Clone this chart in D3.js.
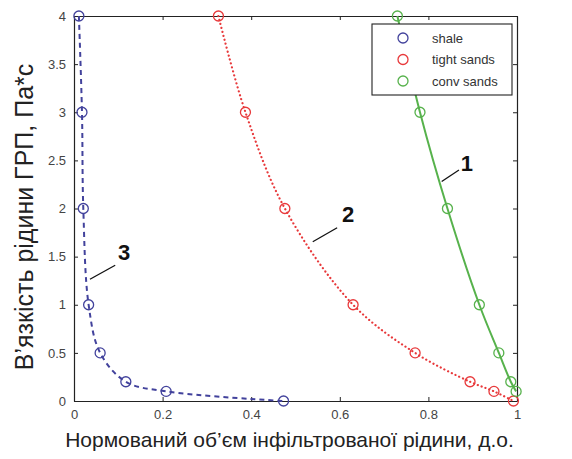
<!DOCTYPE html>
<html>
<head>
<meta charset="utf-8">
<script src="https://cdn.jsdelivr.net/npm/d3@7"></script>
<style>
  body { margin: 0; background: #fff; }
  text { font-family: "Liberation Sans", Arial, sans-serif; }
</style>
</head>
<body>
<div id="chart"></div>
<script>
// valeurs
const viscosity = [4, 3, 2, 1, 0.5, 0.2, 0.1, 0];
const shaleX = [0.011, 0.018, 0.021, 0.033, 0.059, 0.117, 0.208, 0.473];
const tightX = [0.326, 0.387, 0.476, 0.63, 0.77, 0.894, 0.948, 0.992];
const convViscosity = [4, 3, 2, 1, 0.5, 0.2, 0.1];
const convX = [0.73, 0.781, 0.843, 0.915, 0.959, 0.986, 0.998];
const xTicks = [0, 0.2, 0.4, 0.6, 0.8, 1];
const yTicks = [0, 0.5, 1, 1.5, 2, 2.5, 3, 3.5, 4];
const legendNames = ["shale", "tight sands", "conv sands"];
const curveNumbers = ["1", "2", "3"];
const colors = ["#42429c", "#e8393b", "#57b24c"];

const W = 572, H = 459,
    margin = {top: 16, right: 55, bottom: 58, left: 74},
    width = W - margin.left - margin.right,
    height = H - margin.top - margin.bottom,
    markerR = 5;

const svg = d3.select("#chart").append("svg")
    .attr("width", W)
    .attr("height", H)
    .append("g")
    .attr("transform", "translate(" + margin.left + "," + margin.top + ")");

const x = d3.scaleLinear().domain([0, 1]).range([0, width]);
const y = d3.scaleLinear().domain([0, 4]).range([height, 0]);

// axes (ticks vers l'intérieur, cadre complet comme Matlab)
function styleAxis(g) {
    g.selectAll("path.domain").attr("stroke", "#222").attr("stroke-width", 1.2);
    g.selectAll(".tick line").attr("stroke", "#222");
    g.selectAll(".tick text").attr("fill", "#444").style("font-size", "13px");
}

svg.append("g")
    .attr("transform", "translate(0," + height + ")")
    .call(d3.axisBottom(x).tickValues(xTicks).tickSize(-4).tickPadding(9).tickSizeOuter(0)
        .tickFormat(d3.format("~g")))
    .call(styleAxis);

svg.append("g")
    .call(d3.axisLeft(y).tickValues(yTicks).tickSize(-4).tickPadding(8).tickSizeOuter(0)
        .tickFormat(d3.format("~g")))
    .call(styleAxis);

svg.append("g")
    .call(d3.axisTop(x).tickValues(xTicks).tickSize(-4).tickSizeOuter(0).tickFormat(""))
    .call(styleAxis);

svg.append("g")
    .attr("transform", "translate(" + width + ",0)")
    .call(d3.axisRight(y).tickValues(yTicks).tickSize(-4).tickSizeOuter(0).tickFormat(""))
    .call(styleAxis);

// séries
const series = [
    {xs: shaleX, ys: viscosity, dash: "5,4", cap: "butt", w: 2},
    {xs: tightX, ys: viscosity, dash: "0.1,4", cap: "round", w: 2.2},
    {xs: convX, ys: convViscosity, dash: null, cap: "butt", w: 2}
];

const line = d3.line()
    .x(d => x(d[0]))
    .y(d => y(d[1]))
    .curve(d3.curveCatmullRom.alpha(0.5));

series.forEach(function(s, i) {
    const pts = s.xs.map((v, k) => [v, s.ys[k]]);
    svg.append("path")
        .datum(pts)
        .attr("d", line)
        .attr("fill", "none")
        .attr("stroke", colors[i])
        .attr("stroke-width", s.w)
        .attr("stroke-linecap", s.cap)
        .attr("stroke-dasharray", s.dash);

    svg.append("g").selectAll("circle")
        .data(pts)
        .enter().append("circle")
        .attr("cx", d => x(d[0]))
        .attr("cy", d => y(d[1]))
        .attr("r", markerR)
        .attr("fill", "none")
        .attr("stroke", colors[i])
        .attr("stroke-width", 1.3);
});

// numéros des courbes avec traits de rappel (positions en unités des axes)
const callouts = [
    {from: [0.830, 2.28], to: [0.869, 2.40], text: [0.887, 2.39]},
    {from: [0.539, 1.655], to: [0.594, 1.80], text: [0.619, 1.855]},
    {from: [0.036, 1.265], to: [0.093, 1.41], text: [0.113, 1.46]}
];

callouts.forEach(function(c, i) {
    svg.append("line")
        .attr("x1", x(c.from[0])).attr("y1", y(c.from[1]))
        .attr("x2", x(c.to[0])).attr("y2", y(c.to[1]))
        .attr("stroke", "#111")
        .attr("stroke-width", 1.3);
    svg.append("text")
        .attr("x", x(c.text[0]))
        .attr("y", y(c.text[1]))
        .attr("text-anchor", "middle")
        .style("font-size", "22px")
        .style("font-weight", "bold")
        .attr("fill", "#111")
        .text(curveNumbers[i]);
});

// légende
const legend = svg.append("g")
    .attr("transform", "translate(" + (372 - margin.left) + "," + (24 - margin.top) + ")");

legend.append("rect")
    .attr("width", 140)
    .attr("height", 71)
    .attr("fill", "#fff")
    .attr("stroke", "#222")
    .attr("stroke-width", 1.1);

legend.selectAll("circle")
    .data(legendNames)
    .enter().append("circle")
    .attr("cx", 31)
    .attr("cy", (d, i) => 14 + i * 21.5)
    .attr("r", markerR)
    .attr("fill", "none")
    .attr("stroke", (d, i) => colors[i])
    .attr("stroke-width", 1.3);

legend.selectAll("text")
    .data(legendNames)
    .enter().append("text")
    .attr("x", 60)
    .attr("y", (d, i) => 18.5 + i * 21.5)
    .style("font-size", "13px")
    .attr("fill", "#333")
    .text(d => d);

// titres des axes
svg.append("text")
    .attr("x", width / 2 - 6)
    .attr("y", height + 46)
    .attr("text-anchor", "middle")
    .style("font-size", "21px")
    .attr("fill", "#222")
    .text("Нормований об’єм інфільтрованої рідини, д.о.");

svg.append("text")
    .attr("transform", "translate(" + (33 - margin.left) + "," + (217 - margin.top) + ") rotate(-90)")
    .attr("text-anchor", "middle")
    .style("font-size", "25px")
    .attr("fill", "#222")
    .text("В’язкість рідини ГРП, Па*с");
</script>
</body>
</html>
